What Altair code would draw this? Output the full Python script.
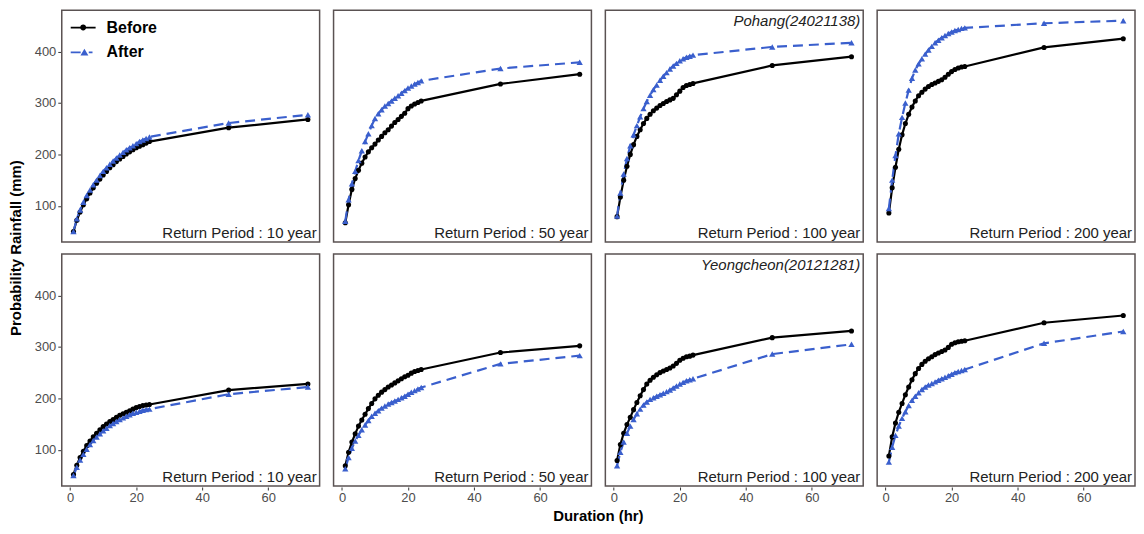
import altair as alt
import pandas as pd

durations = list(range(1, 25)) + [48, 72]
stations = ["Pohang", "Yeongcheon"]
station_labels = ["Pohang(24021138)", "Yeongcheon(20121281)"]
periods = ["10 year", "50 year", "100 year", "200 year"]
series_names = ["Before", "After"]

pohang_before_10 = [50, 72, 88, 102, 114, 125, 135, 144, 152, 160, 167, 174, 180, 186, 191, 196, 201, 205, 209, 213, 216, 219, 222, 225, 252, 268]
pohang_after_10 = [50, 75, 92, 107, 120, 131, 141, 150, 159, 167, 174, 181, 187, 193, 199, 204, 209, 213, 217, 221, 225, 228, 231, 234, 261, 277]
pohang_before_50 = [67, 102, 132, 153, 169, 183, 195, 205, 213, 220, 228, 235, 242, 248, 255, 262, 268, 274, 280, 289, 294, 298, 301, 304, 337, 356]
pohang_after_50 = [70, 112, 143, 167, 188, 207, 225, 240, 256, 270, 279, 287, 294, 299, 304, 309, 314, 319, 324, 329, 333, 337, 340, 343, 367, 379]
pohang_before_100 = [79, 117, 150, 177, 200, 219, 235, 248, 260, 270, 278, 285, 290, 295, 299, 303, 306, 309, 316, 323, 330, 334, 336, 338, 373, 390]
pohang_after_100 = [80, 125, 162, 192, 217, 238, 256, 273, 289, 303, 315, 326, 335, 344, 352, 359, 366, 372, 377, 382, 386, 389, 391, 393, 409, 417]
pohang_before_200 = [86, 135, 175, 210, 238, 260, 278, 292, 304, 314, 321, 327, 332, 336, 339, 342, 345, 350, 356, 361, 365, 368, 370, 371, 408, 425]
pohang_after_200 = [95, 150, 198, 240, 272, 300, 325, 348, 364, 376, 386, 395, 403, 410, 417, 422, 427, 431, 435, 438, 441, 443, 445, 446, 455, 460]

yeongcheon_before_10 = [52, 70, 85, 97, 108, 117, 125, 132, 139, 145, 150, 155, 159, 163, 167, 170, 173, 176, 179, 182, 184, 186, 187, 188, 216, 228]
yeongcheon_after_10 = [50, 66, 80, 91, 101, 110, 118, 125, 131, 137, 142, 147, 151, 155, 159, 162, 165, 168, 171, 173, 175, 177, 178, 179, 208, 222]
yeongcheon_before_50 = [69, 95, 115, 131, 146, 158, 169, 180, 190, 199, 206, 212, 217, 222, 226, 230, 234, 238, 242, 245, 249, 252, 254, 256, 289, 302]
yeongcheon_after_50 = [63, 85, 103, 117, 128, 139, 148, 157, 165, 171, 176, 181, 185, 189, 192, 195, 198, 201, 204, 208, 212, 215, 218, 221, 267, 283]
yeongcheon_before_100 = [79, 110, 132, 149, 163, 178, 192, 205, 217, 228, 235, 241, 246, 250, 253, 256, 259, 263, 268, 274, 278, 281, 282, 284, 318, 331]
yeongcheon_after_100 = [69, 95, 115, 132, 146, 159, 170, 179, 187, 193, 198, 201, 204, 207, 210, 213, 216, 220, 224, 228, 231, 234, 236, 238, 286, 305]
yeongcheon_before_200 = [88, 125, 152, 173, 190, 207, 222, 236, 248, 258, 266, 272, 277, 281, 285, 288, 291, 294, 299, 305, 308, 310, 311, 312, 347, 361]
yeongcheon_after_200 = [76, 105, 128, 146, 161, 174, 186, 196, 204, 211, 217, 222, 226, 229, 232, 235, 238, 241, 244, 247, 250, 252, 254, 256, 307, 330]

panel_values = {
    ("Pohang", "10 year"): (pohang_before_10, pohang_after_10),
    ("Pohang", "50 year"): (pohang_before_50, pohang_after_50),
    ("Pohang", "100 year"): (pohang_before_100, pohang_after_100),
    ("Pohang", "200 year"): (pohang_before_200, pohang_after_200),
    ("Yeongcheon", "10 year"): (yeongcheon_before_10, yeongcheon_after_10),
    ("Yeongcheon", "50 year"): (yeongcheon_before_50, yeongcheon_after_50),
    ("Yeongcheon", "100 year"): (yeongcheon_before_100, yeongcheon_after_100),
    ("Yeongcheon", "200 year"): (yeongcheon_before_200, yeongcheon_after_200),
}

BLACK = "#000000"
BLUE = "#3A5FCD"
W, H = 259, 233

rows = []
for si, st in enumerate(stations):
    for pi, per in enumerate(periods):
        before, after = panel_values[(st, per)]
        for name, vals in zip(series_names, (before, after)):
            for d, v in zip(durations, vals):
                rows.append({
                    "station": st,
                    "period": per,
                    "series": name,
                    "duration": d,
                    "rain": v,
                    "rp_label": "Return Period : " + per,
                    "st_label": station_labels[si] if pi == 2 else "",
                })
df = pd.DataFrame(rows)

xenc = alt.X("duration:Q", title=None,
             scale=alt.Scale(domain=[-2.55, 75.55], nice=False, zero=False),
             axis=alt.Axis(values=[0, 20, 40, 60]))
yenc = alt.Y("rain:Q", title=None,
             scale=alt.Scale(domain=[29.5, 480.5], nice=False, zero=False),
             axis=alt.Axis(values=[100, 200, 300, 400]))

base = alt.Chart().encode(x=xenc, y=yenc)

line_before = base.transform_filter(alt.datum.series == "Before").mark_line(
    color=BLACK, strokeWidth=2.2)
line_after = base.transform_filter(alt.datum.series == "After").mark_line(
    color=BLUE, strokeWidth=2.2, strokeDash=[10, 6])
pts_before = base.transform_filter(alt.datum.series == "Before").mark_point(
    shape="circle", filled=True, color=BLACK, size=26, opacity=1)
pts_after = base.transform_filter(alt.datum.series == "After").mark_point(
    shape="triangle-up", filled=True, color=BLUE, size=40, opacity=1)

# legend-only layer (invisible marks), symbols combine line + marker
path_before = ("M-1,-0.07L1,-0.07L1,0.07L-1,0.07Z "
               "M-0.24,0A0.24,0.24 0 1,1 0.24,0A0.24,0.24 0 1,1 -0.24,0Z")
path_after = ("M-1,-0.07L-0.2,-0.07L-0.2,0.07L-1,0.07Z "
              "M0.45,0.07L0.75,0.07L0.75,-0.07L0.45,-0.07Z "
              "M0.1,-0.3L0.42,0.24L-0.22,0.24Z")
leg = alt.Legend(title=None, orient="none", legendX=9, legendY=5,
                 symbolSize=625, labelFontSize=16, labelFontWeight="bold",
                 labelColor="#000000", labelOffset=11, rowPadding=4,
                 symbolStrokeWidth=0, symbolOpacity=1, padding=0)
legend_layer = base.mark_point(filled=True, opacity=0).encode(
    color=alt.Color("series:N", scale=alt.Scale(domain=series_names, range=[BLACK, BLUE]), legend=leg),
    shape=alt.Shape("series:N", scale=alt.Scale(domain=series_names, range=[path_before, path_after]), legend=leg),
)

label_src = alt.Chart().transform_filter(
    (alt.datum.duration == 72) & (alt.datum.series == "Before"))
rp_text = label_src.mark_text(align="right", baseline="alphabetic", fontSize=15,
                              color="#222222").encode(
    x=alt.value(W - 3), y=alt.value(H - 4), text="rp_label:N")
st_text = label_src.mark_text(align="right", baseline="top", fontSize=15, fontStyle="italic",
                              color="#222222").encode(
    x=alt.value(W - 3), y=alt.value(4), text="st_label:N")

panel = alt.layer(line_before, line_after, pts_before, pts_after, legend_layer, rp_text, st_text).properties(
    width=W, height=H)

title_hdr = dict(titleFontSize=15, titleFontWeight="bold", titleColor="#000000", labelPadding=0)

chart = panel.facet(
    row=alt.Row("station:N", sort=stations, title="Probability Rainfall (mm)",
                header=alt.Header(labels=False, labelOrient="left", titleOrient="left",
                                  titlePadding=0, **title_hdr)),
    column=alt.Column("period:N", sort=periods, title="Duration (hr)",
                      header=alt.Header(labels=False, labelOrient="bottom", titleOrient="bottom",
                                        titlePadding=-6, **title_hdr)),
    data=df,
    spacing={"row": 10, "column": 12},
).properties(
    padding={"left": 0, "top": 0, "right": 0, "bottom": 0}
).configure(
    font="Arial, Liberation Sans, sans-serif"
).configure_view(
    stroke="#5a5252", strokeWidth=1.5
).configure_axis(
    grid=False, domain=False, tickSize=3, tickColor="#333333", tickWidth=1,
    labelFontSize=13, labelColor="#4d4d4d", labelPadding=2,
)

chart.save("out.html", embed_options={"renderer": "svg", "actions": False})
